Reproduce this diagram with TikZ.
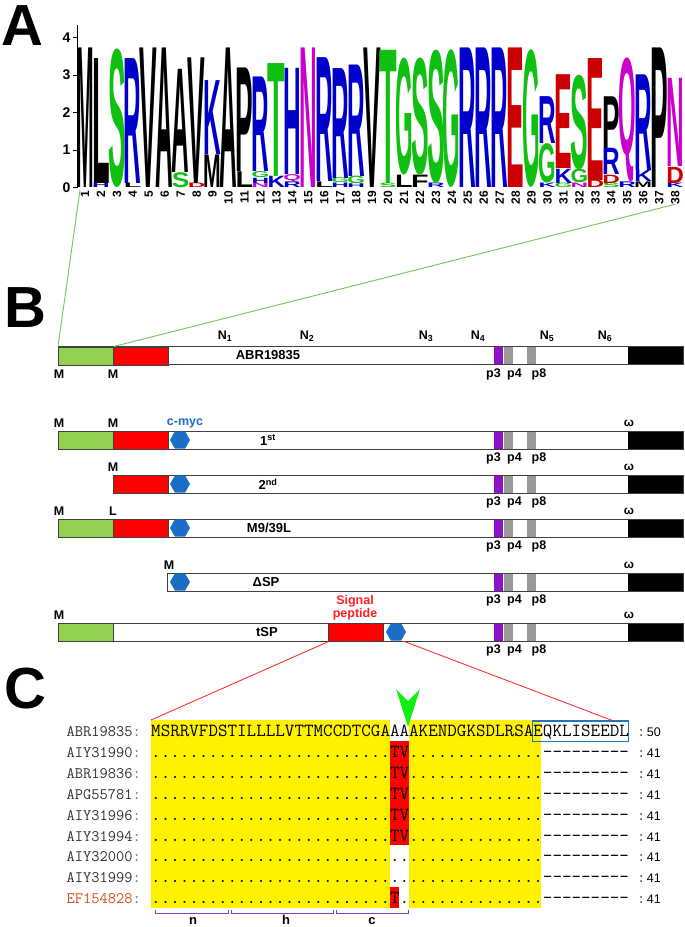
\documentclass[tikz,border=0pt]{standalone}
\usepackage{fontspec}
\setmainfont{Liberation Sans}
\usetikzlibrary{calc,shapes.geometric}
\definecolor{lG}{HTML}{10C010}
\definecolor{lB}{HTML}{0000CC}
\definecolor{lR}{HTML}{CC0000}
\definecolor{lM}{HTML}{CC00CC}
\definecolor{lgreen}{HTML}{92D050}
\definecolor{zgreen}{HTML}{7AC25A}
\definecolor{pur}{HTML}{8E12C8}
\definecolor{gry}{HTML}{999999}
\definecolor{hexblue}{HTML}{1A6FC4}
\definecolor{boxblue}{HTML}{2277BB}
\definecolor{brk}{HTML}{8A3FB0}
\definecolor{arrowgreen}{HTML}{11EE11}
\definecolor{efred}{HTML}{D4501E}
\definecolor{nm}{HTML}{333333}
\definecolor{spred}{HTML}{FF2020}

% logo letter: column, bottom (bits), height (bits), letter, colour
\newcommand\lgl[5]{%
 \pgfmathsetmacro\lgx{76.1+15.95*(#1-1)}%
 \pgfmathsetmacro\lgy{187.5-37.5*(#2)}%
 \pgfmathsetlengthmacro\lgh{37.5*(#3)}%
 \node[anchor=south west,inner sep=0,outer sep=0,text=#5] (L#1#4) at (\lgx,\lgy) {\resizebox*{17.6pt}{\lgh}{\bfseries #4}};}

\newcommand\monoi[1]{\ifx#1\relax\else\makebox[9.555pt]{#1}\expandafter\monoi\fi}
\newcommand\monostr[1]{\monoi#1\relax}

% protein bar: name, top, left end
\newcommand\pbar[3]{%
 \fill[white] (#3,#2) rectangle (683,#2+18);
 \fill[pur] (494,#2) rectangle (503,#2+18);
 \fill[gry] (503.5,#2) rectangle (512.5,#2+18);
 \fill[gry] (527,#2) rectangle (536,#2+18);
 \node[anchor=north west,fill=black,minimum width=55pt,minimum height=18pt,inner sep=0] (#1K) at (628,#2) {};
 \draw[barline] (#3,#2) rectangle (683,#2+18);
 \node[lab] (#1p3) at (493.5,#2+27.5) {p3};
 \node[lab] (#1p4) at (514.5,#2+27.5) {p4};
 \node[lab] (#1p8) at (539,#2+27.5) {p8};
}

% alignment row: index, name, name colour, sequence, count
\newcommand\srow[5]{%
 \pgfmathsetmacro\rowy{736.5+20.9*(#1-1)}%
 \node[anchor=base east,inner sep=0,text=#3,font=\ttfamily\fontsize{16}{16}\selectfont] (nm#1) at (141,\rowy) {#2\textcolor{boxblue}{:}};
 \node[anchor=base west,inner sep=0,font=\ttfamily\fontsize{18.5}{18.5}\selectfont] (sq#1) at (151,\rowy) {\monostr{#4}};
 \node[anchor=base west,inner sep=0] (ct#1) at (637,\rowy) {{\ttfamily\fontsize{16}{16}\selectfont\textcolor{nm}{:}}\hspace{1.5pt}{\fontsize{12.5}{13}\selectfont #5}};
}

\begin{document}
\begin{tikzpicture}[x=1pt,y=-1pt,
  lab/.style={inner sep=0,font=\bfseries\fontsize{12.5}{13}\selectfont},
  om/.style={inner sep=0,font=\bfseries\fontsize{12}{12}\selectfont},
  big/.style={anchor=base west,inner sep=0,font=\bfseries\fontsize{58}{58}\selectfont},
  barline/.style={draw=black!75,line width=0.8pt},
  seg/.style={draw=black!75,line width=0.8pt,inner sep=0,minimum height=18pt,anchor=north west},
  hexa/.style={regular polygon,regular polygon sides=6,fill=hexblue,inner sep=0,minimum size=20pt},
  zline/.style={draw=zgreen,line width=0.9pt},
  rline/.style={draw=spred,line width=0.8pt},
  bracket/.style={draw=brk,line width=0.9pt}]
\useasboundingbox (0,0) rectangle (685,927);
\fill[white] (0,0) rectangle (685,927);

%% ---------------- Panel A ----------------
\node[big] (pA) at (1,45) {A};
\draw[line width=0.8pt] (77,25) -- (77,188);
\foreach \k in {0,...,4}{
  \draw[line width=0.8pt] (73,{187.5-37.5*\k}) -- (77,{187.5-37.5*\k});
  \node[anchor=east,inner sep=0,font=\bfseries\fontsize{14}{14}\selectfont] (yt\k) at (70.5,{187.5-37.5*\k}) {\k};
}
\foreach \i in {1,...,38}{
  \node[rotate=90,anchor=east,inner sep=0,font=\bfseries\fontsize{12}{12}\selectfont] (pos\i) at ({85+15.95*(\i-1)},190.5) {\i};
}
\foreach \pc/\pb/\ph/\pl/\pk in {
 1/0/3.72/M/black, 2/0/0.12/H/lB, 2/0.12/3.33/L/black, 3/0/3.69/S/lG,
 4/0/0.12/L/black, 4/0.12/3.33/R/lB, 5/0/3.72/V/black, 6/0/3.72/A/black,
 7/0/0.4/S/lG, 7/0.4/2.75/A/black, 8/0/0.12/D/lR, 8/0.12/3.35/V/black,
 9/0/0.87/M/black, 9/0.87/1.97/K/lB, 10/0/3.72/A/black,
 11/0/0.42/L/black, 11/0.42/2.76/P/black,
 12/0/0.12/N/lM, 12/0.12/0.14/H/lB, 12/0.26/0.16/G/lG, 12/0.42/2.52/R/lB,
 13/0/0.3/K/lB, 13/0.3/3.01/T/lG,
 14/0/0.15/R/lB, 14/0.15/0.2/Q/lM, 14/0.35/2.83/H/lB,
 15/0/3.72/N/lM, 16/0/0.15/L/black, 16/0.15/3.3/R/lB,
 17/0/0.12/H/lB, 17/0.12/0.13/G/lG, 17/0.25/2.93/R/lB,
 18/0/0.1/H/lB, 18/0.1/0.2/G/lG, 18/0.3/2.97/R/lB,
 19/0/3.72/V/black, 20/0/0.12/S/lG, 20/0.12/3.55/T/lG,
 21/0/0.33/L/black, 21/0.33/3.12/G/lG, 22/0/0.33/F/black, 22/0.33/3.12/S/lG,
 23/0/0.12/R/lB, 23/0.12/3.55/S/lG, 24/0/3.67/G/lG,
 25/0/3.72/R/lB, 26/0/3.72/R/lB, 27/0/3.72/R/lB, 28/0/3.72/E/lR, 29/0/3.67/G/lG,
 30/0/0.12/K/lB, 30/0.12/1.05/G/lG, 30/1.17/1.25/R/lB,
 31/0/0.12/G/lG, 31/0.12/0.38/K/lB, 31/0.5/2.5/E/lR,
 32/0/0.12/N/lM, 32/0.12/0.36/G/lG, 32/0.48/2.52/S/lG,
 33/0/0.2/D/lR, 33/0.2/3.25/E/lR,
 34/0/0.12/S/lG, 34/0.12/0.22/D/lR, 34/0.34/0.7/R/lB, 34/1.04/1.38/P/black,
 35/0/0.15/R/lB, 35/0.15/3.3/Q/lM,
 36/0/0.15/M/black, 36/0.15/0.3/K/lB, 36/0.45/2.55/R/lB,
 37/0/3.72/P/black,
 38/0/0.12/K/lB, 38/0.12/0.43/D/lR, 38/0.55/2.35/N/lM}{
 \lgl{\pc}{\pb}{\ph}{\pl}{\pk}
}

%% ---------------- Panel B ----------------
\node[big] (pB) at (4,327) {B};

% ABR19835
\pbar{a}{346.5}{58}
\node[seg,fill=lgreen,minimum width=55pt] (aG) at (58,346.5) {};
\node[seg,fill=red,minimum width=55pt] (aR) at (113,346.5) {};
\node[lab,font=\bfseries\fontsize{13}{13}\selectfont] (aT) at (268,355.5) {ABR19835};
\node[lab] (aM1) at (59,374) {M};
\node[lab] (aM2) at (113,374) {M};
\node[lab] (aN1) at (225,336) {N\textsubscript{1}};
\node[lab] (aN2) at (307,336) {N\textsubscript{2}};
\node[lab] (aN3) at (426,336) {N\textsubscript{3}};
\node[lab] (aN4) at (478,336) {N\textsubscript{4}};
\node[lab] (aN5) at (547,336) {N\textsubscript{5}};
\node[lab] (aN6) at (605,336) {N\textsubscript{6}};
\coordinate (gtl) at (80,190);
\draw[zline] (gtl) -- (aG.north west);
\draw[zline] (pos38.west) -- (aG.north east);

% 1st
\pbar{b}{431}{58}
\node[seg,fill=lgreen,minimum width=55pt] (bG) at (58,431) {};
\node[seg,fill=red,minimum width=55pt] (bR) at (113,431) {};
\node[hexa] (bH) at (180,440) {};
\node[lab,font=\bfseries\fontsize{13}{13}\selectfont] (bT) at (268,440) {1\textsuperscript{st}};
\node[lab] (bM1) at (59,423) {M};
\node[lab] (bM2) at (113,423) {M};
\node[lab,text=hexblue] (bC) at (185,423) {c-myc};
\node[om] (bW) at (629,423) {ω};

% 2nd
\pbar{c}{475}{113}
\node[seg,fill=red,minimum width=55pt] (cR) at (113,475) {};
\node[hexa] (cH) at (180,484) {};
\node[lab,font=\bfseries\fontsize{13}{13}\selectfont] (cT) at (268,484) {2\textsuperscript{nd}};
\node[lab] (cM) at (113,467) {M};
\node[om] (cW) at (629,467) {ω};

% M9/39L
\pbar{d}{519}{58}
\node[seg,fill=lgreen,minimum width=55pt] (dG) at (58,519) {};
\node[seg,fill=red,minimum width=55pt] (dR) at (113,519) {};
\node[hexa] (dH) at (180,528) {};
\node[lab,font=\bfseries\fontsize{13}{13}\selectfont] (dT) at (269,528) {M9/39L};
\node[lab] (dM) at (59,511) {M};
\node[lab] (dL) at (113,511) {L};
\node[om] (dW) at (629,511) {ω};

% Delta SP
\pbar{e}{573}{167.5}
\node[hexa] (eH) at (180,582) {};
\node[lab,font=\bfseries\fontsize{13}{13}\selectfont] (eT) at (266,582) {ΔSP};
\node[lab] (eM) at (169,565) {M};
\node[om] (eW) at (629,565) {ω};

% tSP
\pbar{f}{623}{58}
\node[seg,fill=lgreen,minimum width=55pt] (fG) at (58,623) {};
\node[seg,fill=red,minimum width=55pt] (fSP) at (328,623) {};
\node[hexa] (fH) at (396,632) {};
\node[lab,font=\bfseries\fontsize{13}{13}\selectfont] (fT) at (267,632) {tSP};
\node[lab] (fM) at (59,615) {M};
\node[om] (fW) at (629,615) {ω};
\node[lab,text=spred,align=center,font=\bfseries\fontsize{12.5}{13}\selectfont] (fS) at (355,608) {Signal\\peptide};

%% ---------------- Panel C ----------------
\node[big] (pC) at (4,708) {C};
\node[anchor=north west,fill=yellow,minimum width=390pt,minimum height=188.1pt,inner sep=0] (yel) at (151,720) {};
\fill[white] (389.5,720) rectangle (408.6,740.9);
\fill[red] (389.5,740.9) rectangle (408.6,845.4);
\fill[white] (389.5,845.4) rectangle (408.6,887.2);
\fill[red] (389.5,887.2) rectangle (399,908.1);
\fill[white] (399,887.2) rectangle (408.6,908.1);
\node[draw=boxblue,line width=1.4pt,minimum width=96pt,minimum height=20.5pt,inner sep=0,anchor=north west] (qbox) at (532,720.3) {};

\srow{1}{ABR19835}{nm}{MSRRVFDSTILLLLVTTMCCDTCGAAAAKENDGKSDLRSAEQKLISEEDL}{50}
\srow{2}{AIY31990}{nm}{.........................TV..............–––––––––}{41}
\srow{3}{ABR19836}{nm}{.........................TV..............–––––––––}{41}
\srow{4}{APG55781}{nm}{.........................TV..............–––––––––}{41}
\srow{5}{AIY31996}{nm}{.........................TV..............–––––––––}{41}
\srow{6}{AIY31994}{nm}{.........................TV..............–––––––––}{41}
\srow{7}{AIY32000}{nm}{.........................................–––––––––}{41}
\srow{8}{AIY31999}{nm}{.........................................–––––––––}{41}
\srow{9}{EF154828}{efred}{.........................T...............–––––––––}{41}

\fill[arrowgreen] (396,689) -- (408,701) -- (420,689) -- (408,727) -- cycle;

\coordinate (rl) at (403,641);
\draw[rline] (fSP.south west) -- (yel.north west);
\draw[rline] (rl) -- ($(qbox.north west)!0.82!(qbox.north east)$);

\draw[bracket] (155,910) -- (155,913) -- (228,913) -- (228,910);
\draw[bracket] (231,910) -- (231,913) -- (333,913) -- (333,910);
\draw[bracket] (336,910) -- (336,913) -- (408,913) -- (408,910);
\node[lab,font=\bfseries\fontsize{13}{13}\selectfont] (bn) at (193,921) {n};
\node[lab,font=\bfseries\fontsize{13}{13}\selectfont] (bh) at (286,920) {h};
\node[lab,font=\bfseries\fontsize{13}{13}\selectfont] (bc) at (372,921) {c};
\end{tikzpicture}
\end{document}
